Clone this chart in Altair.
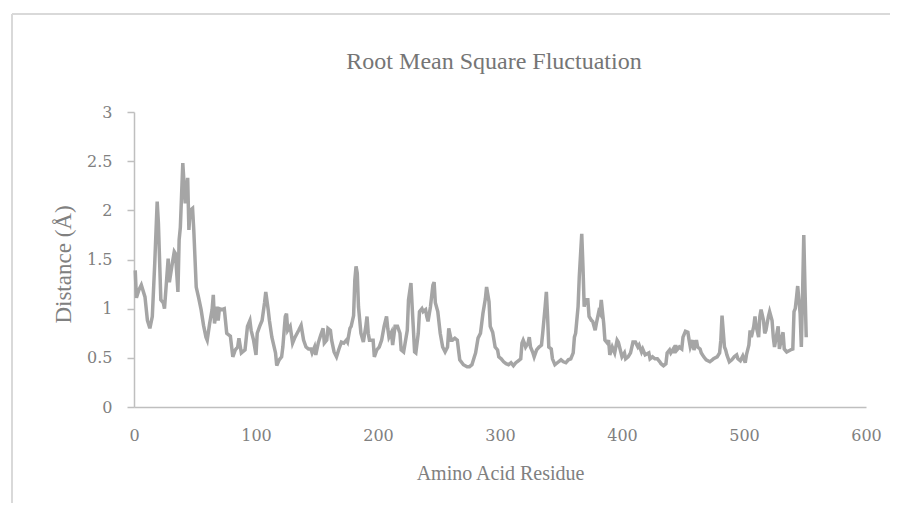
import altair as alt
import pandas as pd

residue = [1, 2, 4, 6, 9, 11, 13, 15, 17, 19, 20, 22, 24, 25, 28, 29, 31, 33, 34, 36,
           37, 38, 40, 42, 44, 45, 46, 48, 49, 51, 53, 55, 57, 59, 60, 62, 64, 65, 66, 68,
           69, 70, 72, 74, 76, 79, 81, 83, 85, 86, 88, 91, 93, 95, 96, 98, 100, 101, 103, 105,
           107, 108, 110, 111, 113, 116, 117, 119, 121, 122, 124, 125, 126, 128, 130, 132, 135, 137, 139, 141,
           143, 145, 146, 148, 149, 151, 153, 155, 156, 158, 159, 161, 162, 164, 166, 168, 170, 172, 174, 175,
           177, 178, 180, 181, 182, 183, 184, 186, 188, 190, 191, 192, 193, 196, 197, 199, 201, 203, 205, 207,
           208, 209, 211, 212, 214, 216, 218, 219, 221, 224, 225, 227, 228, 230, 231, 233, 234, 236, 237, 239,
           240, 241, 243, 245, 246, 247, 249, 251, 253, 255, 257, 258, 260, 261, 263, 265, 266, 267, 270, 273,
           275, 277, 279, 280, 282, 284, 286, 288, 289, 291, 292, 294, 296, 298, 299, 301, 303, 305, 307, 309,
           311, 313, 315, 317, 318, 319, 320, 321, 323, 324, 325, 327, 328, 330, 332, 334, 335, 337, 338, 339,
           340, 342, 343, 345, 347, 350, 352, 354, 356, 358, 360, 361, 362, 364, 365, 367, 368, 369, 370, 372,
           373, 375, 376, 378, 379, 381, 382, 383, 385, 386, 388, 389, 390, 392, 394, 396, 397, 398, 400, 402,
           403, 405, 407, 409, 411, 413, 414, 416, 417, 419, 422, 423, 425, 427, 429, 431, 432, 434, 436, 437,
           439, 440, 442, 443, 444, 445, 447, 449, 450, 452, 454, 455, 456, 458, 459, 461, 462, 464, 465, 467,
           469, 472, 474, 475, 478, 480, 481, 482, 484, 485, 486, 488, 490, 492, 494, 495, 497, 499, 501, 502,
           504, 505, 506, 508, 509, 510, 512, 513, 514, 516, 517, 518, 520, 521, 523, 524, 525, 527, 528, 529,
           531, 532, 533, 535, 538, 540, 541, 542, 543, 544, 546, 547, 548, 549, 550, 551]

rmsf = [1.39, 1.11, 1.19, 1.24, 1.12, 0.88, 0.80, 0.92, 1.46, 2.09, 1.87, 1.09, 1.06, 1.00, 1.51, 1.27, 1.43, 1.58, 1.56, 1.17,
        1.70, 1.83, 2.48, 2.07, 2.33, 1.80, 2.00, 2.02, 1.80, 1.22, 1.11, 0.99, 0.83, 0.71, 0.68, 0.85, 0.99, 1.14, 0.85, 1.02,
        0.88, 1.00, 0.99, 1.00, 0.75, 0.72, 0.51, 0.58, 0.61, 0.70, 0.55, 0.58, 0.82, 0.88, 0.78, 0.68, 0.53, 0.75, 0.82, 0.88,
        1.06, 1.17, 0.99, 0.88, 0.71, 0.55, 0.42, 0.48, 0.51, 0.61, 0.92, 0.95, 0.78, 0.82, 0.65, 0.71, 0.78, 0.83, 0.68, 0.61,
        0.59, 0.59, 0.55, 0.61, 0.53, 0.65, 0.73, 0.80, 0.65, 0.68, 0.80, 0.78, 0.68, 0.56, 0.51, 0.59, 0.66, 0.65, 0.68, 0.66,
        0.80, 0.82, 0.93, 1.29, 1.43, 1.36, 1.02, 0.75, 0.66, 0.82, 0.92, 0.75, 0.68, 0.68, 0.51, 0.58, 0.61, 0.68, 0.82, 0.92,
        0.80, 0.71, 0.76, 0.63, 0.82, 0.82, 0.75, 0.58, 0.56, 0.78, 1.09, 1.26, 1.02, 0.56, 0.55, 0.75, 0.97, 1.00, 0.97, 0.99,
        0.92, 0.87, 1.02, 1.24, 1.27, 1.06, 0.97, 0.75, 0.61, 0.56, 0.61, 0.80, 0.68, 0.68, 0.70, 0.68, 0.58, 0.48, 0.43, 0.41,
        0.41, 0.43, 0.51, 0.55, 0.70, 0.75, 0.95, 1.10, 1.22, 1.07, 0.82, 0.76, 0.61, 0.58, 0.51, 0.49, 0.46, 0.44, 0.43, 0.45,
        0.42, 0.45, 0.47, 0.49, 0.65, 0.68, 0.65, 0.61, 0.65, 0.71, 0.61, 0.55, 0.51, 0.58, 0.61, 0.63, 0.75, 1.02, 1.17, 0.92,
        0.61, 0.59, 0.49, 0.43, 0.45, 0.48, 0.46, 0.45, 0.48, 0.49, 0.55, 0.71, 0.75, 1.02, 1.33, 1.76, 1.43, 1.02, 1.09, 1.09,
        0.92, 0.88, 0.87, 0.78, 0.85, 0.97, 0.95, 1.09, 0.85, 0.68, 0.65, 0.68, 0.53, 0.61, 0.55, 0.68, 0.66, 0.61, 0.51, 0.55,
        0.49, 0.51, 0.55, 0.66, 0.66, 0.61, 0.63, 0.56, 0.59, 0.53, 0.55, 0.49, 0.51, 0.49, 0.49, 0.46, 0.44, 0.42, 0.44, 0.55,
        0.58, 0.55, 0.59, 0.55, 0.63, 0.58, 0.61, 0.59, 0.71, 0.77, 0.76, 0.68, 0.61, 0.68, 0.58, 0.68, 0.61, 0.59, 0.55, 0.51,
        0.48, 0.46, 0.48, 0.49, 0.51, 0.55, 0.68, 0.93, 0.61, 0.58, 0.53, 0.46, 0.48, 0.51, 0.53, 0.49, 0.47, 0.52, 0.45, 0.53,
        0.63, 0.78, 0.71, 0.82, 0.92, 0.82, 0.71, 0.92, 0.99, 0.88, 0.75, 0.78, 0.92, 0.97, 0.88, 0.71, 0.61, 0.75, 0.82, 0.59,
        0.71, 0.76, 0.59, 0.56, 0.58, 0.59, 0.97, 1.00, 1.11, 1.23, 0.95, 0.61, 1.14, 1.75, 1.20, 0.71]

x_ticks = [0, 100, 200, 300, 400, 500, 600]
y_ticks = [0, 0.5, 1, 1.5, 2, 2.5, 3]
chart_title = ["Root Mean Square Fluctuation"]

df = pd.DataFrame({"residue": residue, "rmsf": rmsf})
title_df = pd.DataFrame({"t": chart_title})

FONT = "DejaVu Serif"
TITLE_FONT = "Liberation Serif"
GREY_TEXT = "#808080"
AXIS_GREY = "#bfbfbf"
FRAME = "#d9d9d9"

# outer chart-area border (top and left edges; the others lie beyond the picture)
frame_top = alt.Chart(title_df).mark_rule(color=FRAME, strokeWidth=2).encode(
    x=alt.value(-122), x2=alt.value(756), y=alt.value(-98)
)
frame_left = alt.Chart(title_df).mark_rule(color=FRAME, strokeWidth=2).encode(
    x=alt.value(-122), y=alt.value(-98), y2=alt.value(420)
)

title = alt.Chart(title_df).mark_text(
    font=TITLE_FONT, fontSize=24, color="#757575", align="center", baseline="middle"
).encode(text="t:N", x=alt.value(360), y=alt.value(-50))

line = alt.Chart(df).mark_line(color="#a5a5a5", strokeWidth=3.5).encode(
    x=alt.X("residue:Q",
            scale=alt.Scale(domain=[0, 600], nice=False, zero=False),
            axis=alt.Axis(values=x_ticks, title="Amino Acid Residue", ticks=False,
                          grid=False, domainColor=AXIS_GREY, domainWidth=1.5,
                          labelPadding=20, labelFontSize=16, labelColor=GREY_TEXT,
                          labelFont=FONT, titleFont=TITLE_FONT, titleFontSize=20,
                          titleFontWeight="normal", titleColor=GREY_TEXT,
                          titleX=366, titleY=66, titleBaseline="middle",
                          labelFlush=False)),
    y=alt.Y("rmsf:Q",
            scale=alt.Scale(domain=[0, 3], nice=False),
            axis=alt.Axis(values=y_ticks, title="Distance (Å)", format="~g",
                          grid=False, domainColor=AXIS_GREY, domainWidth=1.5,
                          tickColor=AXIS_GREY, tickSize=7, tickWidth=1.5,
                          labelPadding=15, labelFontSize=16, labelColor=GREY_TEXT,
                          labelFont=FONT, titleFont=TITLE_FONT, titleFontSize=23,
                          titleFontWeight="normal", titleColor=GREY_TEXT,
                          titleAngle=-90, titleX=-71, titleY=152,
                          titleBaseline="middle", labelFlush=False)),
)

chart = alt.layer(frame_top, frame_left, title, line).properties(
    width=732,
    height=295,
    autosize=alt.AutoSizeParams(type="none"),
    padding={"left": 126, "top": 104, "right": 25, "bottom": 96},
).configure_view(stroke=None)

chart.save("out.html", embed_options={"renderer": "svg", "actions": False})
